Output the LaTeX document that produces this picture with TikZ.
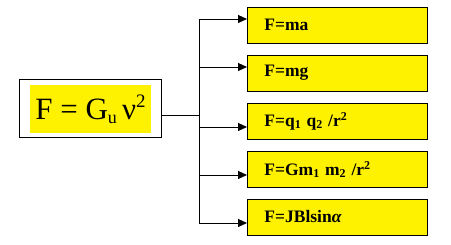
\documentclass[tikz,border=0pt]{standalone}
\usepackage{fontspec}
\setmainfont{Liberation Serif}
\usetikzlibrary{arrows.meta}
\newcommand{\mysub}[1]{\raisebox{-0.25ex}{\fontsize{12}{12}\selectfont #1}}
\newcommand{\mysup}[1]{\raisebox{0.75ex}{\fontsize{12}{12}\selectfont #1}}
\begin{document}
\begin{tikzpicture}[x=1pt,y=1pt,
  fbox/.style={draw=black, line width=0.9pt, fill=yellow, minimum width=180pt, minimum height=36pt, anchor=west, inner sep=0pt, font=\fontsize{17.5}{17.5}\selectfont\bfseries, align=left, text width=168pt},
  link/.style={line width=0.9pt, -{Triangle[length=9pt,width=8pt]}},
  wire/.style={line width=0.9pt}]
\useasboundingbox (0,0) rectangle (451,245);
% main box
\node[draw=black, line width=0.9pt, fill=white, minimum width=142pt, minimum height=58pt, inner sep=0pt] (frame) at (90,137) {};
\node[fill=yellow, minimum width=121pt, minimum height=48pt, inner sep=0pt, font=\fontsize{31}{31}\selectfont] (main) at (90.5,136) {F = G\raisebox{-0.3ex}{\fontsize{18}{18}\selectfont u}\,ν\raisebox{0.85ex}{\fontsize{19}{19}\selectfont 2}};
% formula boxes
\node[fbox] (b1) at (247,220) {\hspace*{11pt}F=ma};
\node[fbox] (b2) at (247,172) {\hspace*{11pt}F=mg};
\node[fbox] (b3) at (247,124) {\hspace*{11pt}F=q\mysub{1} q\mysub{2} /r\mysup{2}};
\node[fbox] (b4) at (247,75.5) {\hspace*{11pt}F=Gm\mysub{1} m\mysub{2} /r\mysup{2}};
\node[fbox] (b5) at (247,28) {\hspace*{11pt}F=JBlsin\textit{α}};
% connectors
\coordinate (start) at (162,130);
\coordinate (t1) at (199,226);
\coordinate (t2) at (199,178);
\coordinate (t3) at (199,118);
\coordinate (t4) at (199,70);
\coordinate (t5) at (199,22);
\draw[wire] (start -| frame.east) -- (start -| t1);
\draw[wire] (t1) -- (t5);
\draw[link] (t1) -- (t1 -| b1.west);
\draw[link] (t2) -- (t2 -| b2.west);
\draw[link] (t3) -- (t3 -| b3.west);
\draw[link] (t4) -- (t4 -| b4.west);
\draw[link] (t5) -- (t5 -| b5.west);
\end{tikzpicture}
\end{document}
